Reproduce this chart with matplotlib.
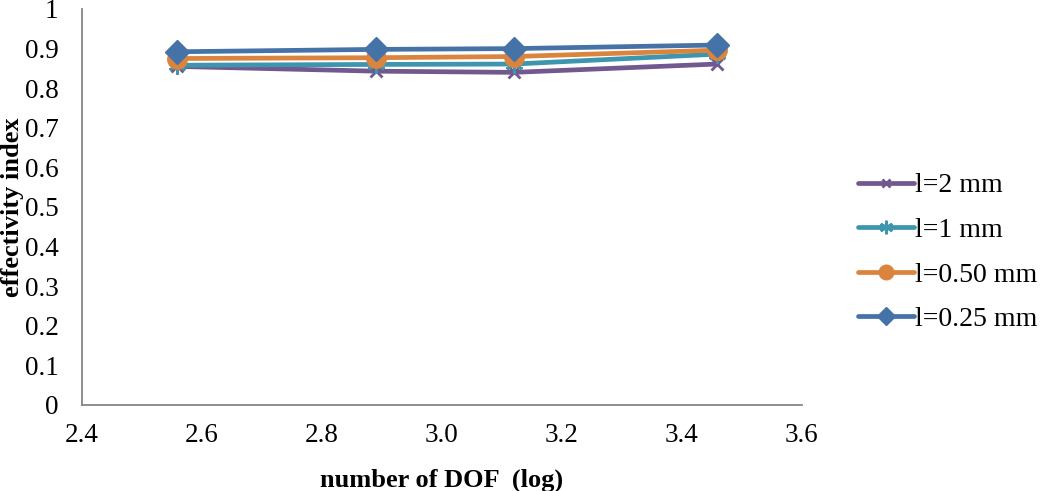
import matplotlib
matplotlib.use("Agg")
import matplotlib.pyplot as plt
from matplotlib.ticker import FixedLocator, FixedFormatter

# Data
dof_log = [2.558, 2.89, 3.12, 3.458]
series_names = ["l=2 mm", "l=1 mm", "l=0.50 mm", "l=0.25 mm"]
l_2mm = [0.855, 0.843, 0.840, 0.861]
l_1mm = [0.858, 0.860, 0.861, 0.886]
l_050mm = [0.875, 0.877, 0.880, 0.896]
l_025mm = [0.892, 0.898, 0.900, 0.909]
x_ticks = [2.4, 2.6, 2.8, 3.0, 3.2, 3.4, 3.6]
x_tick_labels = ["2.4", "2.6", "2.8", "3.0", "3.2", "3.4", "3.6"]
y_ticks = [0, 0.1, 0.2, 0.3, 0.4, 0.5, 0.6, 0.7, 0.8, 0.9, 1.0]
y_tick_labels = ["0", "0.1", "0.2", "0.3", "0.4", "0.5", "0.6", "0.7", "0.8", "0.9", "1"]

plt.rcParams['font.family'] = ['Liberation Serif', 'DejaVu Serif']

fig = plt.figure(figsize=(10.49, 4.91), dpi=100)
ax = fig.add_axes([82/1049, 1-405/491, 720/1049, 396/491])

styles = [
    dict(color="#71588F", marker="x", markersize=8, markeredgewidth=2),
    dict(color="#3D96AE", marker=(6, 2, 0), markersize=13, markeredgewidth=2),
    dict(color="#DB843D", marker="o", markersize=14),
    dict(color="#4572A7", marker="D", markersize=12.5),
]
data = [l_2mm, l_1mm, l_050mm, l_025mm]
for name, vals, st in zip(series_names, data, styles):
    ax.plot(dof_log, vals, label=name, linewidth=3.4, solid_capstyle='round', **st)

ax.set_xlim(2.4, 3.6)
ax.set_ylim(0, 1)
ax.xaxis.set_major_locator(FixedLocator(x_ticks))
ax.xaxis.set_major_formatter(FixedFormatter(x_tick_labels))
ax.yaxis.set_major_locator(FixedLocator(y_ticks))
ax.yaxis.set_major_formatter(FixedFormatter(y_tick_labels))
ax.tick_params(length=0, labelsize=19.5)
ax.tick_params(axis='x', pad=13)
ax.tick_params(axis='y', pad=17)

for s in ["top", "right"]:
    ax.spines[s].set_visible(False)
for s in ["left", "bottom"]:
    ax.spines[s].set_color("#868686")
    ax.spines[s].set_linewidth(1.3)

ax.set_xlabel("number of DOF  (log)", fontsize=19, fontweight='bold', labelpad=15)
ax.set_ylabel("effectivity index", fontsize=19, fontweight='bold', va='center')
ax.yaxis.set_label_coords(-0.097, 0.5)

leg = ax.legend(loc='center left', bbox_to_anchor=(1.043, 0.385), frameon=False,
                fontsize=20, handlelength=2.0, labelspacing=0.69, handletextpad=0.05,
                markerscale=0.75)

fig.savefig("out.png", dpi=100)
